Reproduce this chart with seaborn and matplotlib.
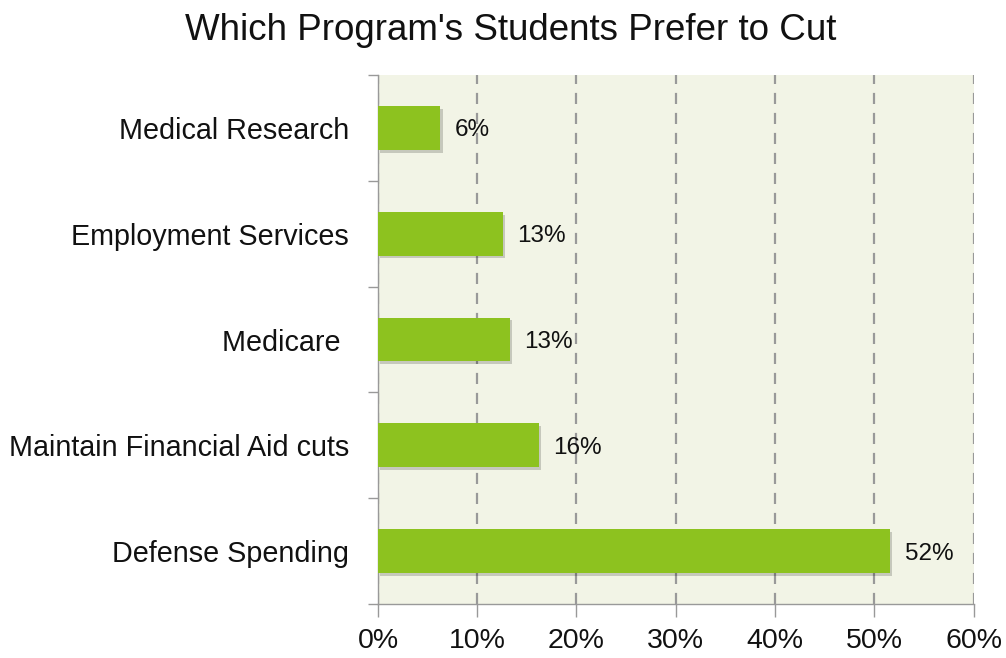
import matplotlib
matplotlib.use("Agg")
import matplotlib.pyplot as plt
import matplotlib.patheffects as pe
import seaborn as sns
import pandas as pd

# Survey results: share of students preferring each program be cut (%)
programs = ["Medical Research", "Employment Services", "Medicare ",
            "Maintain Financial Aid cuts", "Defense Spending"]
shares = [6.3, 12.6, 13.3, 16.2, 51.6]
x_ticks = [0, 10, 20, 30, 40, 50, 60]

df = pd.DataFrame({"program": programs, "share": shares})

sns.set_theme(style="white")
plt.rcParams["font.family"] = ["Liberation Sans", "DejaVu Sans"]

fig = plt.figure(figsize=(10.06, 6.58), dpi=100)
ax = fig.add_axes([0.3757, 0.082, 0.592, 0.804])

sns.barplot(data=df, x="share", y="program", orient="h", color="#8dc21f",
            saturation=1, width=0.415, ax=ax, zorder=3, edgecolor="none", linewidth=0)

for bar in ax.patches:
    bar.set_path_effects([pe.SimplePatchShadow(offset=(1.5, -2), shadow_rgbFace="#000000", alpha=0.18),
                          pe.Normal()])

for bar, v in zip(ax.patches, shares):
    ax.text(bar.get_width() + 1.45, bar.get_y() + bar.get_height() / 2,
            f"{round(v):d}%", va="center_baseline", ha="left", fontsize=17.5, color="#111111")

ax.set_facecolor("#f2f4e6")
ax.set_xlim(0, 60)
ax.set_xticks(x_ticks)
ax.set_xticklabels([f"{t}%" for t in x_ticks], fontsize=20.5, color="#111111")
ax.tick_params(axis="x", pad=8, length=9, width=1, color="#999999", direction="out", bottom=True)

n = len(programs)
ax.set_ylim(n - 0.5, -0.5)
ax.set_yticks(range(n))
ax.set_yticklabels(programs, fontsize=20.7, color="#111111")
ax.tick_params(axis="y", length=0, pad=21)
ax.set_yticks([i - 0.5 for i in range(n + 1)], minor=True)
ax.tick_params(axis="y", which="minor", length=7, width=1, color="#999999", left=True)

ax.xaxis.grid(True, linestyle=(0, (5, 4)), color="#999999", linewidth=1.6, zorder=0)
ax.set_axisbelow(True)
ax.set_xlabel("")
ax.set_ylabel("")

for s in ["top", "right"]:
    ax.spines[s].set_visible(False)
for s in ["left", "bottom"]:
    ax.spines[s].set_color("#999999")
    ax.spines[s].set_linewidth(1)

fig.text(0.508, 0.953, "Which Program's Students Prefer to Cut", ha="center", va="center",
         fontsize=26.5, color="#111111")

fig.savefig("out.png", dpi=100)
